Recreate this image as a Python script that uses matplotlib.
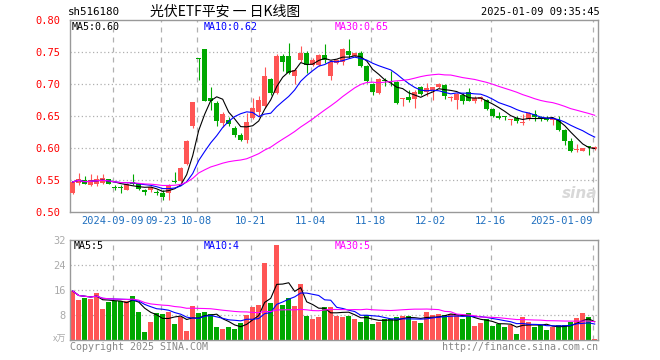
import matplotlib
matplotlib.use("Agg")
import matplotlib.pyplot as plt
import numpy as np
import pandas as pd

# 光伏ETF平安 日K线 (2024-08-29 ~ 2025-01-09), 88个交易日
opens = [0.530, 0.546, 0.550, 0.542, 0.543, 0.545, 0.551, 0.538, 0.538, 0.535,
         0.547, 0.545, 0.533, 0.534, 0.532, 0.529, 0.529, 0.548, 0.548, 0.575,
         0.634, 0.7395, 0.754, 0.678, 0.670, 0.639, 0.643, 0.632, 0.621, 0.612,
         0.647, 0.657, 0.665, 0.708, 0.686, 0.744, 0.744, 0.712, 0.738, 0.749,
         0.729, 0.729, 0.746, 0.713, 0.733, 0.735, 0.752, 0.743, 0.749, 0.728,
         0.700, 0.686, 0.7055, 0.704, 0.703, 0.676, 0.679, 0.676, 0.695, 0.687,
         0.691, 0.696, 0.699, 0.678, 0.6755, 0.683, 0.688, 0.673, 0.676, 0.675,
         0.661, 0.6505, 0.6487, 0.6432, 0.647, 0.639, 0.6453, 0.653, 0.647, 0.6462,
         0.6445, 0.6443, 0.6287, 0.6104, 0.597, 0.596, 0.6015, 0.598]
highs = [0.549, 0.561, 0.557, 0.559, 0.558, 0.560, 0.552, 0.542, 0.542, 0.546,
         0.560, 0.546, 0.536, 0.541, 0.534, 0.535, 0.543, 0.563, 0.570, 0.613,
         0.672, 0.740, 0.754, 0.695, 0.673, 0.657, 0.649, 0.635, 0.624, 0.655,
         0.678, 0.681, 0.727, 0.709, 0.747, 0.747, 0.764, 0.725, 0.759, 0.751,
         0.741, 0.747, 0.763, 0.738, 0.739, 0.756, 0.770, 0.749, 0.751, 0.729,
         0.701, 0.709, 0.709, 0.721, 0.704, 0.678, 0.690, 0.690, 0.697, 0.701,
         0.696, 0.702, 0.700, 0.682, 0.686, 0.686, 0.693, 0.681, 0.682, 0.677,
         0.6625, 0.6555, 0.6505, 0.646, 0.6495, 0.6536, 0.6557, 0.660, 0.6495, 0.6495,
         0.6453, 0.6495, 0.6297, 0.6156, 0.6068, 0.5995, 0.6031, 0.6031]
lows = [0.528, 0.542, 0.543, 0.540, 0.540, 0.544, 0.543, 0.534, 0.529, 0.534,
        0.542, 0.535, 0.527, 0.531, 0.526, 0.519, 0.519, 0.546, 0.547, 0.574,
        0.632, 0.706, 0.673, 0.659, 0.635, 0.633, 0.635, 0.617, 0.611, 0.608,
        0.645, 0.648, 0.662, 0.683, 0.685, 0.721, 0.715, 0.700, 0.735, 0.717,
        0.728, 0.728, 0.733, 0.706, 0.732, 0.729, 0.741, 0.742, 0.727, 0.702,
        0.683, 0.685, 0.697, 0.697, 0.669, 0.665, 0.672, 0.663, 0.683, 0.682,
        0.6755, 0.694, 0.676, 0.673, 0.661, 0.668, 0.673, 0.671, 0.673, 0.660,
        0.648, 0.6455, 0.6445, 0.6365, 0.639, 0.6365, 0.644, 0.642, 0.6425, 0.6417,
        0.6365, 0.626, 0.6052, 0.5932, 0.5932, 0.5948, 0.5896, 0.5963]
closes = [0.547, 0.552, 0.543, 0.550, 0.552, 0.553, 0.543, 0.537, 0.537, 0.544,
          0.544, 0.536, 0.532, 0.539, 0.530, 0.524, 0.542, 0.547, 0.568, 0.611,
          0.672, 0.739, 0.674, 0.673, 0.642, 0.653, 0.638, 0.621, 0.613, 0.640,
          0.662, 0.675, 0.713, 0.686, 0.744, 0.735, 0.717, 0.722, 0.749, 0.729,
          0.738, 0.746, 0.738, 0.735, 0.737, 0.754, 0.746, 0.748, 0.728, 0.704,
          0.688, 0.708, 0.705, 0.703, 0.671, 0.677, 0.675, 0.688, 0.685, 0.694,
          0.696, 0.700, 0.681, 0.679, 0.685, 0.674, 0.674, 0.678, 0.680, 0.661,
          0.6505, 0.647, 0.6483, 0.646, 0.6417, 0.640, 0.6547, 0.648, 0.6462, 0.6443,
          0.6453, 0.6287, 0.6104, 0.5958, 0.5974, 0.5995, 0.601, 0.602]
# 成交量(万手)
volumes = [15.7, 12.8, 13.5, 13.1, 15.1, 9.9, 12.3, 12.5, 12.5, 12.5,
           14.1, 9.1, 2.7, 5.9, 8.5, 8.3, 9.1, 5.1, 7.3, 3.0,
           10.9, 8.7, 9.1, 8.3, 4.3, 3.6, 4.3, 3.6, 5.5, 8.1,
           10.7, 11.2, 24.7, 11.9, 30.5, 11.2, 13.3, 10.9, 17.9, 7.8,
           6.8, 7.5, 10.7, 10.7, 7.8, 7.5, 7.8, 6.6, 5.9, 8.0,
           5.1, 5.9, 6.6, 6.6, 7.5, 7.7, 7.7, 6.2, 5.4, 9.1,
           8.0, 8.3, 8.0, 8.2, 8.0, 6.6, 8.6, 4.5, 5.4, 6.6,
           4.5, 5.1, 4.3, 4.8, 1.9, 7.3, 5.7, 4.3, 4.7, 3.2,
           4.3, 4.7, 4.8, 5.9, 7.0, 8.6, 7.5, 0.3]

tick_idx = [7, 15, 21, 30, 40, 50, 60, 70, 87]
tick_labels = ["2024-09-09", "09-23", "10-08", "10-21", "11-04", "11-18",
               "12-02", "12-16", "2025-01-09"]
price_ticks = [0.50, 0.55, 0.60, 0.65, 0.70, 0.75, 0.80]
vol_ticks = [8, 16, 24, 32]

RED = "#ff5555"
GREEN = "#00a800"
MONO = ["DejaVu Sans Mono"]
CJK = ["Noto Sans CJK SC", "DejaVu Sans"]

o = np.array(opens)
h = np.array(highs)
l = np.array(lows)
c = np.array(closes)
v = np.array(volumes)
x = np.arange(len(c))
up = c >= o
colors = np.where(up, RED, GREEN)

cs = pd.Series(c)
ma5 = cs.rolling(5, min_periods=1).mean()
ma10 = cs.rolling(10, min_periods=1).mean()
ma30 = cs.rolling(30, min_periods=1).mean()
vs = pd.Series(v)
vma5 = vs.rolling(5, min_periods=1).mean()
vma10 = vs.rolling(10, min_periods=1).mean()
vma30 = vs.rolling(30, min_periods=1).mean()

W, H = 660, 360
fig = plt.figure(figsize=(6.6, 3.6), dpi=100)


def rect(left, top, right, bottom):
    return [left / W, 1 - bottom / H, (right - left) / W, (bottom - top) / H]


ax = fig.add_axes(rect(70, 20, 598, 212))
axv = fig.add_axes(rect(70, 240, 598, 340))

for a in (ax, axv):
    a.set_xlim(-0.45, 87.55)
    for s in a.spines.values():
        s.set_color("#999999")
        s.set_linewidth(1)
    for t in tick_idx:
        a.axvline(t - 0.33, color="#b0b0b0", lw=0.9, ls=(0, (4, 4)), zorder=0)

# K线
ax.set_ylim(0.50, 0.80)
for y in price_ticks[1:-1]:
    ax.axhline(y, color="#b0b0b0", lw=0.9, ls=(0, (1, 2)), zorder=0)
ax.vlines(x, l, h, colors=colors, lw=0.8, zorder=2)
body = np.maximum(np.abs(c - o), 0.0016)
ax.bar(x, body, bottom=np.minimum(o, c), width=0.8, color=colors, zorder=3)
ax.plot(x, ma5, color="black", lw=0.8, zorder=4)
ax.plot(x, ma10, color="#0000ff", lw=0.8, zorder=4)
ax.plot(x, ma30, color="#ff00ff", lw=0.8, zorder=4)

ax.set_yticks(price_ticks)
ax.set_yticklabels(["%.2f" % p for p in price_ticks], family=MONO, fontsize=7.5, color="red")
ax.set_xticks([t - 0.33 for t in tick_idx])
ax.set_xticklabels(tick_labels, family=MONO, fontsize=7.5, color="#1f6fbf")
ax.tick_params(length=0, pad=3)
ax.tick_params(axis="y", pad=7)
ax.get_xticklabels()[-1].set_ha("right")

# 成交量
axv.set_ylim(0, 32)
for y in vol_ticks[:-1]:
    axv.axhline(y, color="#b0b0b0", lw=0.9, ls=(0, (1, 2)), zorder=0)
axv.bar(x, v, width=0.8, color=colors, zorder=2)
axv.plot(x, vma5, color="black", lw=0.8, zorder=3)
axv.plot(x, vma10, color="#0000ff", lw=0.8, zorder=3)
axv.plot(x, vma30, color="#ff00ff", lw=0.8, zorder=3)
axv.set_yticks(vol_ticks)
axv.set_yticklabels([str(t) for t in vol_ticks], family=MONO, fontsize=7.5, color="#aaaaaa")
axv.set_xticks([])
axv.tick_params(length=0, pad=3)


def px(xp, yp, s, **kw):
    fig.text(xp / W, 1 - yp / H, s, va="center", **kw)


px(68, 12, "sh516180", family=MONO, fontsize=7.8, color="black")
px(150, 12, "光伏ETF平安 一 日K线图", family=CJK, fontsize=10, color="black")
px(600, 12, "2025-01-09 09:35:45", family=MONO, fontsize=7.5, color="black", ha="right")

px(72, 27, "MA5:%.2f" % ma5.iloc[-1], family=MONO, fontsize=7.2, color="black")
px(204, 27, "MA10:%.2f" % ma10.iloc[-1], family=MONO, fontsize=7.2, color="#0000ff")
px(335, 27, "MA30:%.2f" % ma30.iloc[-1], family=MONO, fontsize=7.2, color="#ff00ff")

px(74, 246, "MA5:5", family=MONO, fontsize=7.2, color="black")
px(204, 246, "MA10:4", family=MONO, fontsize=7.2, color="#0000ff")
px(335, 246, "MA30:5", family=MONO, fontsize=7.2, color="#ff00ff")

px(66, 339, "x万", family=CJK, fontsize=6.5, color="#aaaaaa", ha="right")
px(70, 347, "Copyright 2025 SINA.COM", family=MONO, fontsize=7.2, color="#888888")
px(598, 347, "http://finance.sina.com.cn", family=MONO, fontsize=7.2, color="#888888", ha="right")
px(580, 193, "sina", family=["DejaVu Sans"], fontsize=11, color="#d8d8d8",
   style="italic", weight="bold", ha="center", zorder=1)

fig.savefig("out.png", dpi=100)
